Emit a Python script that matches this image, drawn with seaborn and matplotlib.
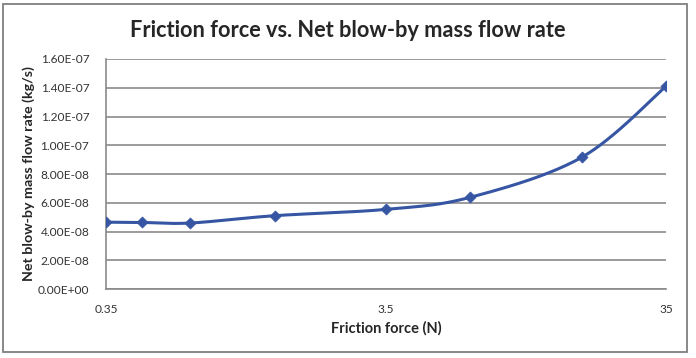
import numpy as np
import pandas as pd
import matplotlib
matplotlib.use("Agg")
import matplotlib.pyplot as plt
import matplotlib.ticker as mticker
import seaborn as sns

# data
friction = [0.35, 0.47, 0.7, 1.4, 3.5, 7.0, 17.5, 35.0]
blowby = [4.65e-8, 4.63e-8, 4.59e-8, 5.10e-8, 5.54e-8, 6.38e-8, 9.16e-8, 1.41e-7]
xticks = [0.35, 3.5, 35]
xtick_labels = ["0.35", "3.5", "35"]
yticks = np.arange(0, 1.61e-7, 2e-8)

df = pd.DataFrame({"friction": friction, "blowby": blowby})

def excel_smooth(x, y, n=40):
    # Bezier smoothing like Excel's "smoothed line", done in log-x / screen-ish space
    lx = np.log10(np.asarray(x)) / 2.0 * 560
    ly = np.asarray(y) / 1.6e-7 * 230
    p = np.column_stack([lx, ly])
    out = []
    for i in range(len(p) - 1):
        p0 = p[i - 1] if i > 0 else p[i]
        p1, p2 = p[i], p[i + 1]
        p3 = p[i + 2] if i + 2 < len(p) else p[i + 1]
        b1 = p1 + (p2 - p0) / 6
        b2 = p2 - (p3 - p1) / 6
        t = np.linspace(0, 1, n)[:, None]
        seg = (1 - t) ** 3 * p1 + 3 * (1 - t) ** 2 * t * b1 + 3 * (1 - t) * t ** 2 * b2 + t ** 3 * p2
        out.append(seg if i == 0 else seg[1:])
    c = np.vstack(out)
    return 10 ** (c[:, 0] / 560 * 2.0), c[:, 1] / 230 * 1.6e-7

sns.set_style("white")
plt.rcParams["font.family"] = ["Lato", "DejaVu Sans"]

fig = plt.figure(figsize=(6.96, 3.58), dpi=100)
ax = fig.add_axes([0.1523, 0.1927, 0.9569 - 0.1523, 0.8352 - 0.1927])

blue = "#3656a4"
sx, sy = excel_smooth(df["friction"], df["blowby"])
sns.lineplot(x=sx, y=sy, sort=False, estimator=None, color=blue, linewidth=2.2, ax=ax)
sns.scatterplot(data=df, x="friction", y="blowby", marker="D", s=32, color=blue,
                edgecolor=blue, linewidth=0.5, ax=ax, zorder=3)

ax.set_xscale("log")
ax.set_xlim(0.35, 35)
ax.set_ylim(0, 1.6e-7)
ax.set_xticks(xticks)
ax.set_xticklabels(xtick_labels)
ax.xaxis.set_minor_locator(mticker.NullLocator())
ax.set_yticks(yticks)
ax.yaxis.set_major_formatter(mticker.FuncFormatter(lambda v, _: f"{v:.2E}"))
ax.tick_params(axis="both", length=0, labelsize=8.6, colors="#333333")
ax.tick_params(axis="x", pad=11)
ax.tick_params(axis="y", pad=12)
ax.yaxis.grid(True, color="#8a8a8a", linewidth=1.2)
ax.xaxis.grid(False)
ax.set_axisbelow(True)
for s in ["top", "right"]:
    ax.spines[s].set_visible(False)
for s in ["left", "bottom"]:
    ax.spines[s].set_color("#8a8a8a")
    ax.spines[s].set_linewidth(1.2)

ax.set_xlabel("Friction force (N)", fontsize=10.5, fontweight="bold", color="#262626")
ax.set_ylabel("Net blow-by mass flow rate (kg/s)", fontsize=10.3, fontweight="bold", color="#262626")
ax.xaxis.set_label_coords(0.5, -0.170)
ax.yaxis.set_label_coords(-0.138, 0.5)
ax.xaxis.label.set_va("center")
ax.yaxis.label.set_va("center")
fig.text(0.499, 0.916, "Friction force vs. Net blow-by mass flow rate", ha="center", va="center",
         fontsize=15.7, fontweight="bold", color="#262626")

fig.add_artist(plt.Rectangle((0.005, 0.017), 0.982, 0.972, transform=fig.transFigure,
                             fill=False, edgecolor="#7f7f7f", linewidth=1.3))

fig.savefig("out.png", dpi=100)
